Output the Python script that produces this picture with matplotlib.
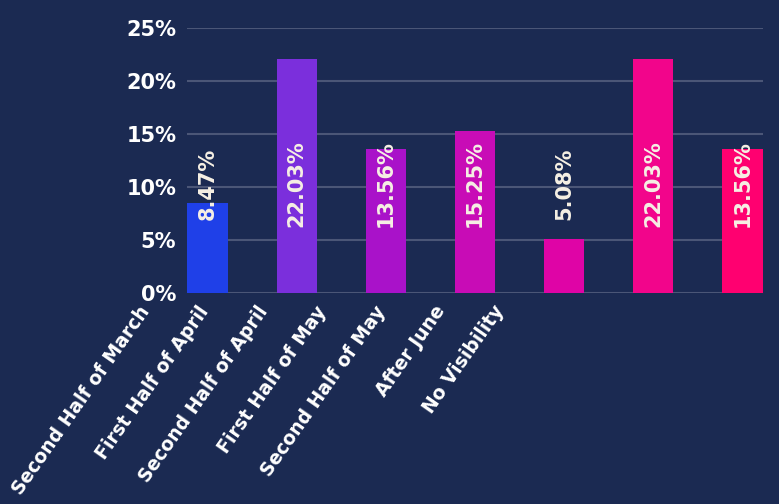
import matplotlib
matplotlib.use('Agg')
import matplotlib.pyplot as plt

# Chart data
categories = ['Second Half of March', 'First Half of April', 'Second Half of April',
              'First Half of May', 'Second Half of May', 'After June', 'No Visibility']
values = [8.47, 22.03, 13.56, 15.25, 5.08, 22.03, 13.56]
value_labels = ['8.47%', '22.03%', '13.56%', '15.25%', '5.08%', '22.03%', '13.56%']
colors = ['#1f40e8', '#7b2fdc', '#a912c9', '#c80cb6', '#df04a6', '#f2058b', '#ff0070']
yticks = [0, 5, 10, 15, 20, 25]
ytick_labels = ['0%', '5%', '10%', '15%', '20%', '25%']

bg = '#1b2a52'
plt.rcParams['font.family'] = ['DejaVu Sans']

fig = plt.figure(figsize=(7.79, 5.04), dpi=100, facecolor=bg)
ax = fig.add_axes([0.2405, 0.4187, 0.7385, 0.5257], facecolor=bg)

x = list(range(len(categories)))
ax.bar(x, values, width=0.453, color=colors, zorder=3)

# value labels, all at the same height
for xi, lab in zip(x, value_labels):
    ax.text(xi, 10.3, lab, rotation=90, ha='center', va='center',
            color='#f6f0e4', fontsize=15, fontweight='bold', zorder=4)

ax.set_xlim(-0.2265, 6.2265)
ax.set_ylim(0, 25)
ax.set_yticks(yticks, ytick_labels)
ax.set_xticks([])
ax.grid(axis='y', color='#4b5677', linewidth=1.5, zorder=0)
ax.tick_params(axis='y', length=0, pad=8, labelcolor='white', labelsize=15)
for lbl in ax.get_yticklabels():
    lbl.set_fontweight('bold')

# category labels sit on their own, tighter spacing than the bars
label_pos = [-0.776 + 0.6617 * i for i in range(len(categories))]
for xp, cat in zip(label_pos, categories):
    ax.text(xp, -0.035, cat, transform=ax.get_xaxis_transform(), rotation=55,
            ha='right', va='top', rotation_mode='anchor', color='white',
            fontsize=13.5, fontweight='bold', clip_on=False)

for s in ax.spines.values():
    s.set_visible(False)

fig.savefig('out.png', dpi=100, facecolor=bg)
